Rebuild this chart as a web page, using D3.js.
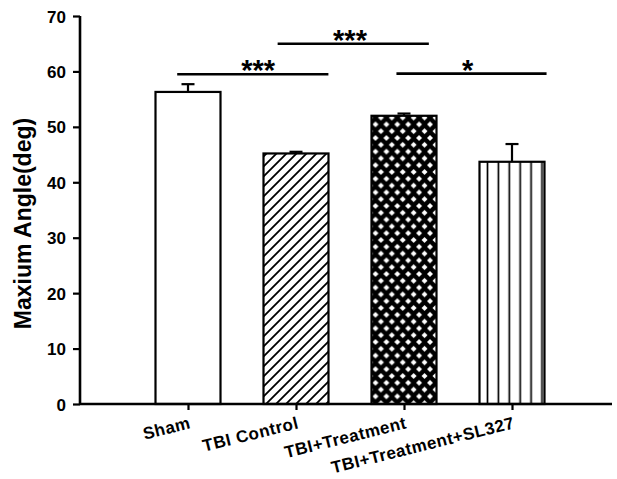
<!DOCTYPE html>
<html>
<head>
<meta charset="utf-8">
<script src="https://cdn.jsdelivr.net/npm/d3@7/dist/d3.min.js"></script>
<style>
  body { margin: 0; background: #fff; }
  text { font-family: "Liberation Sans", Arial, sans-serif; font-weight: bold; }
</style>
</head>
<body>
<div id="chart"></div>
<script>
var groups = ["Sham", "TBI Control", "TBI+Treatment", "TBI+Treatment+SL327"];
var means = [56.3, 45.2, 52.0, 43.7];
var errors = [1.4, 0.3, 0.4, 3.2];
var fills = ["white", "url(#diag)", "url(#cross)", "url(#vert)"];
var yTicks = [0, 10, 20, 30, 40, 50, 60, 70];

// significance brackets: start / end / star position in category units, height in deg
var sigFrom = [-0.10, 0.83, 1.93];
var sigTo = [1.30, 2.23, 3.32];
var sigMark = [0.65, 1.50, 2.59];
var sigLevel = [59.5, 65.0, 59.6];
var sigLabel = ["***", "***", "*"];

var width = 617, height = 479;
var plotLeft = 80, plotRight = 620, plotTop = 16, plotBottom = 404;
var axisEnd = 612;
var barWidth = 65;

var svg = d3.select("#chart").append("svg")
    .attr("width", width)
    .attr("height", height);

var x = d3.scalePoint()
    .domain(groups)
    .range([plotLeft, plotRight])
    .padding(1);

var xi = d3.scaleLinear()
    .domain([-1, groups.length])
    .range([plotLeft, plotRight]);

var y = d3.scaleLinear()
    .domain([0, 70])
    .range([plotBottom, plotTop]);

var defs = svg.append("defs");

// diagonal hatch
var diag = defs.append("pattern")
    .attr("id", "diag")
    .attr("patternUnits", "userSpaceOnUse")
    .attr("width", 10).attr("height", 10);
diag.append("rect").attr("width", 10).attr("height", 10).attr("fill", "white");
diag.append("path")
    .attr("d", "M-1,1 l2,-2 M0,10 l10,-10 M9,11 l2,-2")
    .attr("stroke", "black").attr("stroke-width", 1.8);

// black cross hatch with white diamonds
var cw = 10.9, ch = 13.6, dd = 3;
var cross = defs.append("pattern")
    .attr("id", "cross")
    .attr("patternUnits", "userSpaceOnUse")
    .attr("x", x(groups[2]) - barWidth / 2 + 4)
    .attr("y", 2)
    .attr("width", cw).attr("height", ch);
cross.append("rect").attr("width", cw).attr("height", ch).attr("fill", "black");
var diamondCenters = [[0, 0], [cw, 0], [0, ch], [cw, ch], [cw / 2, ch / 2]];
cross.selectAll("path").data(diamondCenters).enter().append("path")
    .attr("d", function(c) {
        return "M" + (c[0] - dd) + "," + c[1] + " L" + c[0] + "," + (c[1] - dd) +
               " L" + (c[0] + dd) + "," + c[1] + " L" + c[0] + "," + (c[1] + dd) + " Z";
    })
    .attr("fill", "white");

// vertical lines
var vw = 10.9;
var vert = defs.append("pattern")
    .attr("id", "vert")
    .attr("patternUnits", "userSpaceOnUse")
    .attr("x", x(groups[3]) - barWidth / 2 + 8 - vw / 2)
    .attr("width", vw).attr("height", 10);
vert.append("rect").attr("width", vw).attr("height", 10).attr("fill", "white");
vert.append("line")
    .attr("x1", vw / 2).attr("x2", vw / 2).attr("y1", 0).attr("y2", 10)
    .attr("stroke", "black").attr("stroke-width", 1.7);

// bars
svg.append("g").selectAll("rect")
    .data(groups)
    .enter().append("rect")
    .attr("x", function(d) { return x(d) - barWidth / 2; })
    .attr("y", function(d, i) { return y(means[i]); })
    .attr("width", barWidth)
    .attr("height", function(d, i) { return plotBottom - y(means[i]); })
    .attr("fill", function(d, i) { return fills[i]; })
    .attr("stroke", "black")
    .attr("stroke-width", 2.2);

// error bars (upper only)
var eb = svg.append("g").attr("stroke", "black").attr("stroke-width", 2.2);
eb.selectAll("line.stem")
    .data(groups)
    .enter().append("line")
    .attr("class", "stem")
    .attr("x1", function(d) { return x(d); })
    .attr("x2", function(d) { return x(d); })
    .attr("y1", function(d, i) { return y(means[i]); })
    .attr("y2", function(d, i) { return y(means[i] + errors[i]); });
eb.selectAll("line.cap")
    .data(groups)
    .enter().append("line")
    .attr("class", "cap")
    .attr("x1", function(d) { return x(d) - 6.5; })
    .attr("x2", function(d) { return x(d) + 6.5; })
    .attr("y1", function(d, i) { return y(means[i] + errors[i]); })
    .attr("y2", function(d, i) { return y(means[i] + errors[i]); });

// axes
var yAxis = svg.append("g")
    .attr("transform", "translate(" + plotLeft + ",0)")
    .call(d3.axisLeft(y).tickValues(yTicks).tickSize(7).tickPadding(7));
yAxis.select(".domain").attr("stroke-width", 2.6).attr("d", "M0," + plotTop + "V" + plotBottom);
yAxis.selectAll(".tick line").attr("stroke-width", 2.2);
yAxis.selectAll(".tick text").attr("font-size", 17).attr("fill", "black").attr("dy", "0.36em");

var xAxis = svg.append("g")
    .attr("transform", "translate(0," + plotBottom + ")")
    .call(d3.axisBottom(x).tickSize(6).tickSizeOuter(0));
xAxis.select(".domain").attr("stroke-width", 2.6).attr("d", "M" + plotLeft + ",0H" + axisEnd);
xAxis.selectAll(".tick line").attr("stroke-width", 2.2);
xAxis.selectAll(".tick text")
    .attr("font-size", 17)
    .attr("letter-spacing", 0.5)
    .attr("fill", "black")
    .attr("text-anchor", "end")
    .attr("dy", null)
    .attr("y", 0)
    .attr("transform", "translate(3,24) rotate(-14)");

svg.append("text")
    .attr("transform", "translate(31,223.5) rotate(-90)")
    .attr("text-anchor", "middle")
    .attr("font-size", 23)
    .text("Maxium Angle(deg)");

// significance brackets
var sig = svg.append("g");
sig.selectAll("line")
    .data(sigLabel)
    .enter().append("line")
    .attr("x1", function(d, i) { return xi(sigFrom[i]); })
    .attr("x2", function(d, i) { return xi(sigTo[i]); })
    .attr("y1", function(d, i) { return y(sigLevel[i]); })
    .attr("y2", function(d, i) { return y(sigLevel[i]); })
    .attr("stroke", "black")
    .attr("stroke-width", 2.6);
sig.selectAll("text")
    .data(sigLabel)
    .enter().append("text")
    .attr("x", function(d, i) { return xi(sigMark[i]); })
    .attr("y", function(d, i) { return y(sigLevel[i]) + 6; })
    .attr("text-anchor", "middle")
    .attr("font-size", 29)
    .text(function(d) { return d; });
</script>
</body>
</html>
